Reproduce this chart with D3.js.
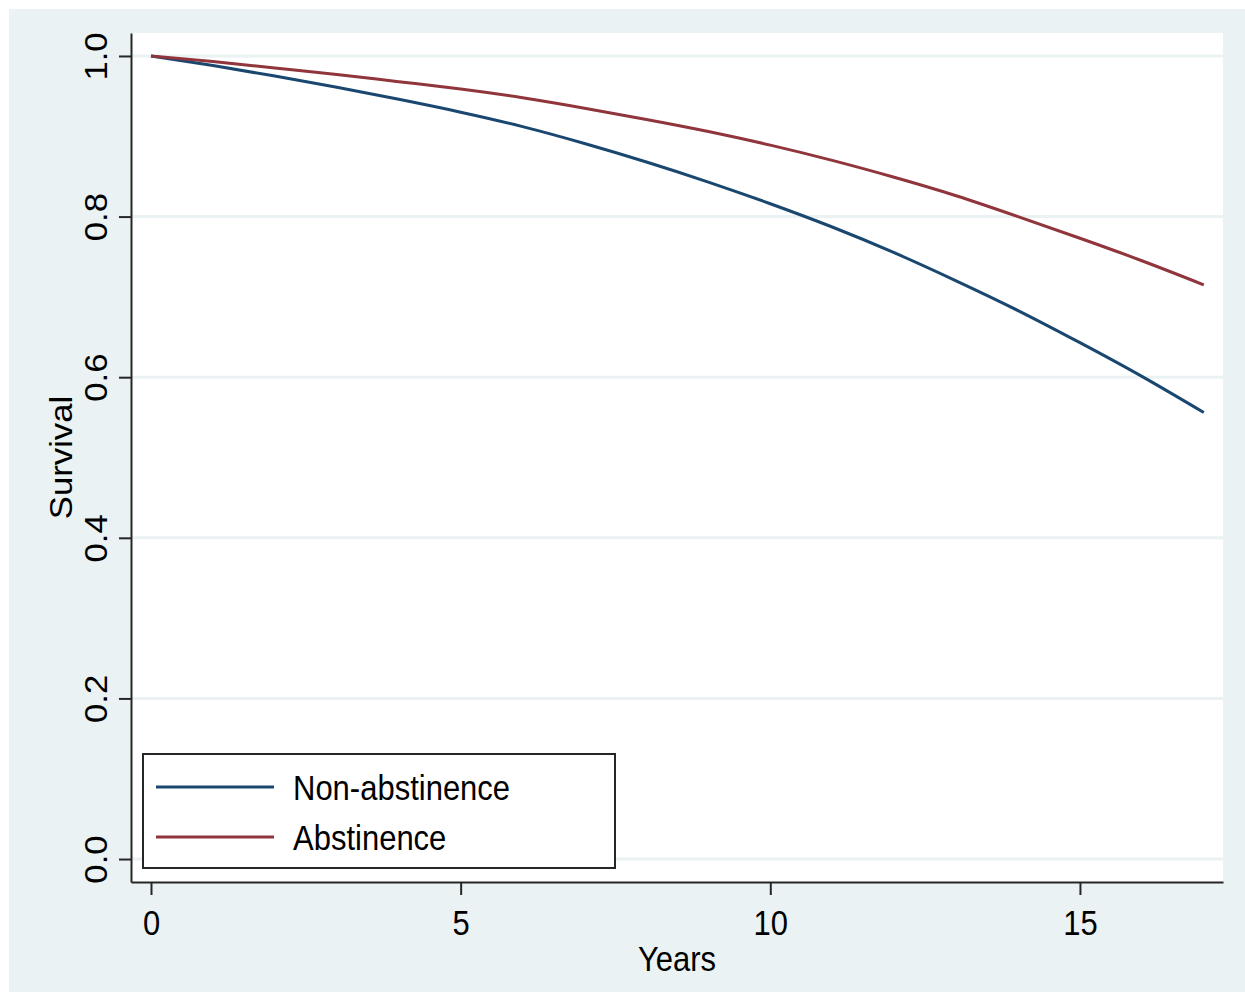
<!DOCTYPE html>
<html>
<head>
<meta charset="utf-8">
<script src="https://cdn.jsdelivr.net/npm/d3@7"></script>
<style>
  body { margin: 0; background: #fff; }
  svg { display: block; font-family: "Liberation Sans", Arial, sans-serif; }
</style>
</head>
<body>
<div id="chart"></div>
<script>
const width = 1245;
const height = 992;

// values
const years = [0, 1, 2, 3, 4, 5, 6, 7, 8, 9, 10, 11, 12, 13, 14, 15, 16, 17];
const nonAbstinence = [1.000, 0.988, 0.975, 0.961, 0.946, 0.930, 0.912, 0.891, 0.868, 0.843,
  0.816, 0.787, 0.755, 0.720, 0.683, 0.643, 0.601, 0.556];
const abstinence = [1.000, 0.993, 0.985, 0.977, 0.968, 0.959, 0.948, 0.935, 0.921, 0.906,
  0.889, 0.870, 0.849, 0.826, 0.800, 0.773, 0.745, 0.715];
const seriesNames = ["Non-abstinence", "Abstinence"];
const seriesColours = ["#1a476f", "#90353b"];
const xTicks = [0, 5, 10, 15];
const yTicks = [0, 0.2, 0.4, 0.6, 0.8, 1.0];

const plot = { left: 131, right: 1223, top: 33, bottom: 882 };
const stretch = "scale(1,1.12)"; // the reference is a bit taller than wide

const svg = d3.select("#chart").append("svg")
  .attr("width", width)
  .attr("height", height);

svg.append("rect")
  .attr("x", 9).attr("y", 9)
  .attr("width", width - 9).attr("height", height - 9)
  .attr("fill", "#eaf2f3");

svg.append("rect")
  .attr("x", plot.left).attr("y", plot.top)
  .attr("width", plot.right - plot.left).attr("height", plot.bottom - plot.top)
  .attr("fill", "#fff");

// scales: axis lines run past the data a little, like in Stata
const x = d3.scaleLinear().domain([-0.323, 17.31]).range([plot.left, plot.right]);
const y = d3.scaleLinear().domain([-0.0286, 1.0286]).range([plot.bottom, plot.top]);

// gridlines
svg.append("g")
  .selectAll("line")
  .data(yTicks)
  .enter()
  .append("line")
  .attr("x1", plot.left).attr("x2", plot.right)
  .attr("y1", (d) => y(d)).attr("y2", (d) => y(d))
  .attr("stroke", "#eaf2f3")
  .attr("stroke-width", 3);

// curves
const line = d3.line()
  .x((d) => x(d[0]))
  .y((d) => y(d[1]))
  .curve(d3.curveNatural);

[nonAbstinence, abstinence].forEach((vals, i) => {
  svg.append("path")
    .datum(years.map((t, j) => [t, vals[j]]))
    .attr("d", line)
    .attr("fill", "none")
    .attr("stroke", seriesColours[i])
    .attr("stroke-width", 3);
});

// x axis
const xAxis = svg.append("g")
  .attr("transform", "translate(0," + plot.bottom + ")")
  .call(d3.axisBottom(x).tickValues(xTicks).tickSize(13).tickSizeOuter(0).tickFormat(d3.format("d")));

// y axis
const yAxis = svg.append("g")
  .attr("transform", "translate(" + plot.left + ",0)")
  .call(d3.axisLeft(y).tickValues(yTicks).tickSize(12).tickSizeOuter(0).tickFormat(d3.format(".1f")));

[xAxis, yAxis].forEach((g) => {
  g.select(".domain").attr("stroke", "#262626").attr("stroke-width", 2);
  g.selectAll(".tick line").attr("stroke", "#262626").attr("stroke-width", 2);
  g.selectAll(".tick text")
    .attr("fill", "#000")
    .attr("font-size", 31)
    .attr("font-family", "Liberation Sans, Arial, sans-serif");
});

xAxis.selectAll(".tick text")
  .attr("y", null).attr("dy", null)
  .attr("text-anchor", "middle")
  .attr("transform", "translate(0,53) " + stretch);

yAxis.selectAll(".tick text")
  .attr("x", null).attr("dy", null)
  .attr("text-anchor", "middle")
  .attr("transform", "translate(-24,0) " + stretch + " rotate(-90)");

// axis titles
svg.append("text")
  .attr("transform", "translate(" + (plot.left + plot.right) / 2 + ",971) " + stretch)
  .attr("text-anchor", "middle")
  .attr("font-size", 31)
  .text("Years");

svg.append("text")
  .attr("transform", "translate(72," + (y(0) + y(1)) / 2 + ") " + stretch + " rotate(-90)")
  .attr("text-anchor", "middle")
  .attr("font-size", 31)
  .text("Survival");

// legend
const legend = svg.append("g").attr("id", "legend");

legend.append("rect")
  .attr("x", 143).attr("y", 754)
  .attr("width", 472).attr("height", 114)
  .attr("fill", "#fff")
  .attr("stroke", "#262626")
  .attr("stroke-width", 2);

const items = legend.selectAll("g.item")
  .data(seriesNames)
  .enter()
  .append("g")
  .attr("class", "item")
  .attr("transform", (d, i) => "translate(0," + (787 + i * 50) + ")");

items.append("line")
  .attr("x1", 156).attr("x2", 274)
  .attr("stroke", (d, i) => seriesColours[i])
  .attr("stroke-width", 3);

items.append("text")
  .attr("transform", "translate(293,13) " + stretch)
  .attr("font-size", 31)
  .text((d) => d);
</script>
</body>
</html>
